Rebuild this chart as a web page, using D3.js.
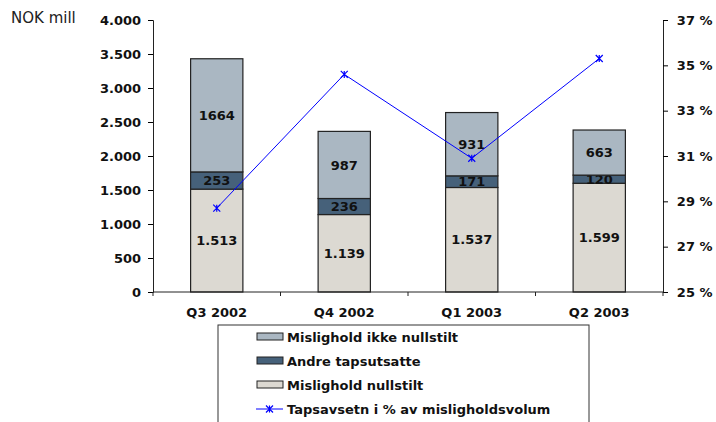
<!DOCTYPE html>
<html>
<head>
<meta charset="utf-8">
<script src="https://cdn.jsdelivr.net/npm/d3@7"></script>
<style>
  body { margin: 0; background: #fff; }
  text { font-family: 'DejaVu Sans', Verdana, sans-serif; }
</style>
</head>
<body>
<div id="chart"></div>
<script>
let quarters = ['Q3 2002', 'Q4 2002', 'Q1 2003', 'Q2 2003']
let nullstilt = [1513, 1139, 1537, 1599]
let andre = [253, 236, 171, 120]
let ikkeNullstilt = [1664, 987, 931, 663]
let tapsPct = [28.7, 34.6, 30.9, 35.3]
let leftTicks = [0, 500, 1000, 1500, 2000, 2500, 3000, 3500, 4000]
let rightTicks = [25, 27, 29, 31, 33, 35, 37]

let width = 716
let height = 422
let margin = { top: 20, left: 153, right: 53, bottom: 130 }
let plotW = width - margin.left - margin.right
let plotH = height - margin.top - margin.bottom

let colors = { ikke: '#aab7c2', andre: '#46617a', null: '#dcd9d2' }
let locale = d3.formatLocale({ decimal: ',', thousands: '.', grouping: [3], currency: ['', ''] })
let fmt = locale.format(',d')

let svg = d3.select('#chart').append('svg')
  .attr('width', width).attr('height', height)

svg.append('text')
  .attr('x', 11).attr('y', 23)
  .attr('font-size', 15)
  .attr('fill', '#222')
  .text('NOK mill')

let g = svg.append('g').attr('transform', `translate(${margin.left},${margin.top})`)

let x = d3.scaleBand().domain(quarters).range([0, plotW]).paddingInner(0.59).paddingOuter(0.295)
let xb = d3.scaleBand().domain(quarters).range([0, plotW])
let y = d3.scaleLinear().domain([0, 4000]).range([plotH, 0])
let y2 = d3.scaleLinear().domain([25, 37]).range([plotH, 0])

let rows = quarters.map((q, i) => ({ q, null: nullstilt[i], andre: andre[i], ikke: ikkeNullstilt[i] }))
let stack = d3.stack().keys(['null', 'andre', 'ikke'])(rows)

let layers = g.selectAll('.layer').data(stack).enter().append('g')
  .attr('fill', d => colors[d.key])

layers.selectAll('rect').data(d => d).enter().append('rect')
  .attr('x', d => x(d.data.q))
  .attr('width', x.bandwidth())
  .attr('y', d => y(d[1]))
  .attr('height', d => y(d[0]) - y(d[1]))
  .attr('stroke', '#222')
  .attr('stroke-width', 1.2)

layers.selectAll('text').data(d => d.map(v => ({ v, key: d.key }))).enter().append('text')
  .attr('x', d => x(d.v.data.q) + x.bandwidth() / 2)
  .attr('y', d => y((d.v[0] + d.v[1]) / 2))
  .attr('dy', '0.36em')
  .attr('text-anchor', 'middle')
  .attr('font-size', 13)
  .attr('font-weight', 'bold')
  .attr('fill', '#111')
  .text(d => d.key === 'null' ? fmt(d.v.data[d.key]) : d.v.data[d.key])

// left axis
let yAxis = g.append('g')
  .call(d3.axisLeft(y).tickValues(leftTicks).tickSize(5).tickFormat(fmt))
yAxis.select('.domain').attr('stroke', '#222')
yAxis.selectAll('text').attr('font-size', 13).attr('font-weight', 'bold').attr('fill', '#111')
  .attr('font-family', "'DejaVu Sans', Verdana, sans-serif").attr('dx', '-0.3em')

// right axis
let y2Axis = g.append('g').attr('transform', `translate(${plotW},0)`)
  .call(d3.axisRight(y2).tickValues(rightTicks).tickSize(5).tickFormat(d => d + ' %'))
y2Axis.select('.domain').attr('stroke', '#222')
y2Axis.selectAll('text').attr('font-size', 13).attr('font-weight', 'bold').attr('fill', '#111')
  .attr('font-family', "'DejaVu Sans', Verdana, sans-serif").attr('dx', '0.45em')

// x axis
let xAxisG = g.append('g').attr('transform', `translate(0,${plotH})`)
xAxisG.append('line').attr('x1', 0).attr('x2', plotW).attr('stroke', '#222')
xAxisG.selectAll('.tick').data(d3.range(quarters.length + 1)).enter().append('line')
  .attr('x1', i => i * xb.step()).attr('x2', i => i * xb.step())
  .attr('y1', 0).attr('y2', 4).attr('stroke', '#222')
xAxisG.selectAll('.lab').data(quarters).enter().append('text')
  .attr('x', d => xb(d) + xb.bandwidth() / 2)
  .attr('y', 25)
  .attr('text-anchor', 'middle')
  .attr('font-size', 13).attr('font-weight', 'bold').attr('fill', '#111')
  .text(d => d)

// line
let line = d3.line().x((d, i) => xb(quarters[i]) + xb.bandwidth() / 2).y(d => y2(d))
g.append('path').datum(tapsPct)
  .attr('d', line).attr('fill', 'none').attr('stroke', '#0000ff').attr('stroke-width', 1)

function star(sel, cx, cy) {
  let s = 3.5
  sel.append('path')
    .attr('d', `M${cx - s},${cy - s}L${cx + s},${cy + s}M${cx - s},${cy + s}L${cx + s},${cy - s}M${cx},${cy - s}L${cx},${cy + s}`)
    .attr('stroke', '#0000ff').attr('stroke-width', 1.2).attr('fill', 'none')
}
tapsPct.forEach((d, i) => star(g, xb(quarters[i]) + xb.bandwidth() / 2, y2(d)))

// legend
let leg = svg.append('g').attr('transform', 'translate(218,325)')
leg.append('rect').attr('x', 0).attr('y', 0).attr('width', 371).attr('height', 110)
  .attr('fill', '#fff').attr('stroke', '#333').attr('stroke-width', 1)
let items = [
  { label: 'Mislighold ikke nullstilt', color: colors.ikke },
  { label: 'Andre tapsutsatte', color: colors.andre },
  { label: 'Mislighold nullstilt', color: colors.null },
  { label: 'Tapsavsetn i % av misligholdsvolum', line: true }
]
items.forEach((it, i) => {
  let yy = 12 + i * 24
  if (it.line) {
    leg.append('line').attr('x1', 38).attr('x2', 65).attr('y1', yy).attr('y2', yy)
      .attr('stroke', '#0000ff').attr('stroke-width', 1)
    star(leg, 51.5, yy)
  } else {
    leg.append('rect').attr('x', 39).attr('y', yy - 4).attr('width', 26).attr('height', 7)
      .attr('fill', it.color).attr('stroke', '#222').attr('stroke-width', 1)
  }
  leg.append('text').attr('x', 69).attr('y', yy).attr('dy', '0.36em')
    .attr('font-size', 13).attr('font-weight', 'bold').attr('fill', '#111')
    .text(it.label)
})
</script>
</body>
</html>
